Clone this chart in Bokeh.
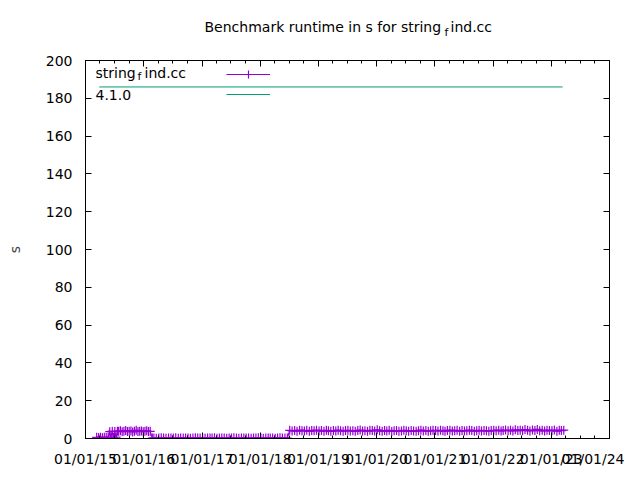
from datetime import datetime
import pandas as pd
from bokeh.plotting import figure
from bokeh.layouts import column
from bokeh.models import (ColumnDataSource, Range1d, FixedTicker, DatetimeAxis, LinearAxis,
                          DatetimeTickFormatter, Label, Legend, LegendItem)
from bokeh.embed import file_html
from bokeh.resources import INLINE

# ---------------- data ----------------
run_dates = [
    "2015-03-12", "2015-03-24", "2015-04-05", "2015-04-17", "2015-04-29", "2015-05-11",
    "2015-05-23", "2015-06-02", "2015-06-10", "2015-06-18", "2015-06-26", "2015-07-04",
    "2015-07-12", "2015-07-20",
    "2015-07-28", "2015-08-08", "2015-08-19", "2015-08-30", "2015-09-10", "2015-09-21",
    "2015-10-02", "2015-10-13", "2015-10-24", "2015-11-04", "2015-11-15", "2015-11-26",
    "2015-12-07", "2015-12-18", "2015-12-29", "2016-01-09", "2016-01-20", "2016-01-31",
    "2016-02-11",
    "2016-02-24", "2016-03-05", "2016-03-20", "2016-04-05", "2016-04-20", "2016-05-05",
    "2016-05-20", "2016-06-05", "2016-06-20", "2016-07-05", "2016-07-20", "2016-08-05",
    "2016-08-20", "2016-09-05", "2016-09-20", "2016-10-05", "2016-10-20", "2016-11-05",
    "2016-11-20", "2016-12-05", "2016-12-20",
    "2017-01-05", "2017-01-20", "2017-02-05", "2017-02-20", "2017-03-05", "2017-03-20",
    "2017-04-05", "2017-04-20", "2017-05-05", "2017-05-20", "2017-06-05", "2017-06-20",
    "2017-07-05", "2017-07-20", "2017-08-05", "2017-08-20", "2017-09-05", "2017-09-20",
    "2017-10-05", "2017-10-20", "2017-11-05", "2017-11-20", "2017-12-05", "2017-12-20",
    "2018-01-05", "2018-01-20", "2018-02-05", "2018-02-20", "2018-03-05", "2018-03-20",
    "2018-04-05", "2018-04-20", "2018-05-05", "2018-05-20", "2018-06-05", "2018-06-20",
    "2018-07-05", "2018-07-20", "2018-08-05", "2018-08-20", "2018-09-05", "2018-09-20",
    "2018-10-05", "2018-10-20", "2018-11-05", "2018-11-20", "2018-12-05", "2018-12-20",
    "2019-01-05", "2019-01-20", "2019-02-05", "2019-02-20", "2019-03-05", "2019-03-20",
    "2019-04-05", "2019-04-20", "2019-05-05", "2019-05-20", "2019-06-05", "2019-06-20",
    "2019-07-05", "2019-07-20", "2019-08-05", "2019-08-20", "2019-09-05", "2019-09-20",
    "2019-10-05", "2019-10-20", "2019-11-05", "2019-11-20", "2019-12-05", "2019-12-20",
    "2020-01-05", "2020-01-20", "2020-02-05", "2020-02-20", "2020-03-05", "2020-03-20",
    "2020-04-05", "2020-04-20", "2020-05-05", "2020-05-20", "2020-06-05", "2020-06-20",
    "2020-07-05", "2020-07-20", "2020-08-05", "2020-08-20", "2020-09-05", "2020-09-20",
    "2020-10-05", "2020-10-20", "2020-11-05", "2020-11-20", "2020-12-05", "2020-12-20",
    "2021-01-05", "2021-01-20", "2021-02-05", "2021-02-20", "2021-03-05", "2021-03-20",
    "2021-04-05", "2021-04-20", "2021-05-05", "2021-05-20", "2021-06-05", "2021-06-20",
    "2021-07-05", "2021-07-20", "2021-08-05", "2021-08-20", "2021-09-05", "2021-09-20",
    "2021-10-05", "2021-10-20", "2021-11-05", "2021-11-20", "2021-12-05", "2021-12-20",
    "2022-01-05", "2022-01-20", "2022-02-05", "2022-02-20", "2022-03-05", "2022-03-20",
    "2022-04-05", "2022-04-20", "2022-05-05", "2022-05-20", "2022-06-05", "2022-06-20",
    "2022-07-05", "2022-07-20", "2022-08-05", "2022-08-20", "2022-09-05", "2022-09-20",
    "2022-10-05", "2022-10-20", "2022-11-05", "2022-11-20", "2022-12-05", "2022-12-20",
    "2023-01-05", "2023-01-20", "2023-02-05", "2023-02-20", "2023-03-05", "2023-03-20",
]
run_seconds = [
    0.6, 0.5, 0.7, 0.4, 0.6, 0.5, 0.8, 3.6, 0.6, 3.9, 0.5, 3.7, 0.7, 3.8,
    3.8, 4.1, 3.6, 3.9, 4.2, 3.7, 3.8, 4.0, 3.5, 3.9, 4.3, 3.7, 3.8, 4.0, 3.6, 3.9, 4.1, 3.7,
    3.8,
    0.2, 0.3, 0.1, 0.2, 0.4, 0.2, 0.1, 0.3, 0.2, 0.2, 0.4, 0.1, 0.3, 0.2, 0.2, 0.3, 0.1, 0.2,
    0.4, 0.2, 0.3,
    0.2, 0.1, 0.3, 0.2, 0.2, 0.4, 0.1, 0.2, 0.3, 0.2, 0.1, 0.3, 0.2, 0.4, 0.2, 0.1, 0.2, 0.3,
    0.2, 0.2, 0.1, 0.3, 0.2, 0.4,
    0.2, 0.1, 0.3, 0.2, 0.2, 0.3, 0.1, 0.2, 0.4, 0.2, 0.3, 0.2,
    4.3, 4.0, 4.2, 3.9, 4.4, 4.1, 4.0, 4.3, 3.8, 4.2, 4.1, 4.4,
    4.0, 4.2, 3.9, 4.3, 4.1, 3.8, 4.2, 4.0, 4.4, 4.1, 3.9, 4.2,
    4.3, 4.0, 4.1, 3.8, 4.2, 4.5, 4.0, 4.1, 3.9, 4.3, 4.2, 4.0,
    4.6, 4.1, 3.9, 4.2, 4.0, 4.3, 3.7, 4.1, 4.2, 3.9, 4.0, 4.3,
    4.1, 3.8, 4.2, 4.0, 3.9, 4.1, 4.4, 4.0, 4.2, 3.9, 4.1, 4.3,
    4.2, 4.0, 4.3, 4.1, 3.9, 4.2, 4.4, 4.0, 4.1, 4.3, 3.9, 4.2,
    4.0, 4.1, 4.4, 4.2, 3.9, 4.1, 4.3, 4.0, 4.2, 4.1, 3.9, 4.2,
    4.3, 4.1, 4.4, 4.0, 4.2, 4.5, 4.1, 4.3, 4.0, 4.6, 4.2, 4.4,
    4.1, 4.7, 4.3, 4.0, 4.5, 4.2, 4.8, 4.1, 4.3, 4.0, 4.4, 4.2,
    4.1, 4.5, 3.9, 4.3, 4.2, 4.4,
]
version_dates = ["2015-03-28", "2023-03-13"]
version_seconds = [186.0, 186.0]

year_ticks = [2015, 2016, 2017, 2018, 2019, 2020, 2021, 2022, 2023, 2024]
y_ticks = [0, 20, 40, 60, 80, 100, 120, 140, 160, 180, 200]

PURPLE = "#9400D3"
GREEN = "#009E73"
FONT = "DejaVu Sans"
W = 624
TITLE_H = 48
FL, FR, FT, FB = 85, 609, 60, 438   # plot frame in picture px

# ---------------- title strip (gnuplot enhanced text: string_find.cc -> subscript f) ----------------
tfig = figure(width=W, height=TITLE_H, output_backend="svg", toolbar_location=None, tools="",
              x_range=Range1d(FL, FR), y_range=Range1d(0, TITLE_H),
              min_border_left=FL, min_border_right=W - FR, min_border_top=0, min_border_bottom=0,
              x_axis_location=None, y_axis_location=None, title=None)
tfig.outline_line_color = None
tfig.background_fill_color = "white"
tfig.border_fill_color = "white"
tfig.grid.visible = False

def tlab(text, px, py, size="14px"):
    tfig.add_layout(Label(x=px, y=TITLE_H - py, text=text, text_font=FONT,
                          text_font_size=size, text_color="black",
                          text_align="left", text_baseline="middle"))

tlab("Benchmark runtime in s for string", 204, 26.5)
tlab("f", 444, 31.5, "11px")
tlab("ind.cc", 450, 26.5)

# ---------------- main figure ----------------
MAIN_H = 470 - TITLE_H
p = figure(width=W, height=MAIN_H, output_backend="svg", toolbar_location=None, tools="",
           x_axis_type="datetime", title=None,
           x_range=Range1d(datetime(2015, 1, 1), datetime(2024, 1, 1)),
           y_range=Range1d(0, 200),
           min_border_left=FL, min_border_right=W - FR, min_border_top=FT - TITLE_H,
           min_border_bottom=TITLE_H + MAIN_H - FB)
p.background_fill_color = "white"
p.border_fill_color = "white"
p.xgrid.visible = False
p.ygrid.visible = False
p.outline_line_color = "black"
p.outline_line_width = 1

def ms(d):
    return pd.Timestamp(d).value / 1e6

x_major = [ms(datetime(y, 1, 1)) for y in year_ticks]
x_minor = [ms(datetime(y, m, 1)) for y in year_ticks[:-1] for m in (4, 7, 10)]
xticker = FixedTicker(ticks=x_major, minor_ticks=x_minor)
yticker = FixedTicker(ticks=y_ticks, minor_ticks=[])
fmt = "%m/%d/%y"
xfmt = DatetimeTickFormatter(years=fmt, months=fmt, days=fmt, hours=fmt, hourmin=fmt,
                             minutes=fmt, minsec=fmt, seconds=fmt, milliseconds=fmt,
                             microseconds=fmt)

def style_axis(ax, show_labels):
    ax.axis_line_color = "black"
    ax.major_tick_line_color = "black"
    ax.minor_tick_line_color = "black"
    ax.major_tick_in = 6
    ax.major_tick_out = 0
    ax.minor_tick_in = 3
    ax.minor_tick_out = 0
    ax.major_label_text_font = FONT
    if show_labels:
        ax.major_label_text_font_size = "14px"
        ax.major_label_text_color = "black"
    else:
        ax.major_label_text_font_size = "1px"
        ax.major_label_text_color = None
        ax.major_label_standoff = 0

xa = p.xaxis[0]
xa.ticker = xticker
xa.formatter = xfmt
style_axis(xa, True)
xa.major_label_standoff = 12

ya = p.yaxis[0]
ya.ticker = yticker
style_axis(ya, True)
ya.major_label_standoff = 13
ya.axis_label = "s"
ya.axis_label_text_font = FONT
ya.axis_label_text_font_size = "14px"
ya.axis_label_text_font_style = "normal"
ya.axis_label_standoff = 20

top = DatetimeAxis(ticker=xticker, formatter=xfmt)
style_axis(top, False)
p.add_layout(top, "above")
right = LinearAxis(ticker=yticker)
style_axis(right, False)
p.add_layout(right, "right")

# ---------------- data marks ----------------
src = ColumnDataSource(dict(x=pd.to_datetime(run_dates), y=run_seconds))
vsrc = ColumnDataSource(dict(x=pd.to_datetime(version_dates), y=version_seconds))
r_line = p.line("x", "y", source=src, line_color=PURPLE, line_width=1.2)
r_pts = p.scatter("x", "y", source=src, marker="cross", size=9, line_color=PURPLE,
                  line_width=1.2)
r_ver = p.line("x", "y", source=vsrc, line_color=GREEN, line_width=1)

# ---------------- legend (gnuplot style: text left, sample right) ----------------
leg = Legend(items=[LegendItem(label=" ", renderers=[r_line, r_pts]),
                    LegendItem(label=" ", renderers=[r_ver])],
             location=(226 - FL, FB - 64 - 40), orientation="vertical",
             glyph_width=44, glyph_height=20, label_height=20, label_width=0,
             label_standoff=0, spacing=0, padding=0, margin=0,
             border_line_color=None, background_fill_alpha=0,
             label_text_font_size="1px", label_text_color=None)
p.add_layout(leg, "center")

def lab(text, px, py, size="14px"):
    p.add_layout(Label(x=px - FL, y=FB - py, x_units="screen", y_units="screen", text=text,
                       text_font=FONT, text_font_size=size, text_color="black",
                       text_align="left", text_baseline="middle"))

lab("string", 95, 72)
lab("f", 137, 76, "11px")
lab("ind.cc", 144, 72)
lab("4.1.0", 95, 94)

open("out.html", "w").write(file_html(column(tfig, p, spacing=0), INLINE))
